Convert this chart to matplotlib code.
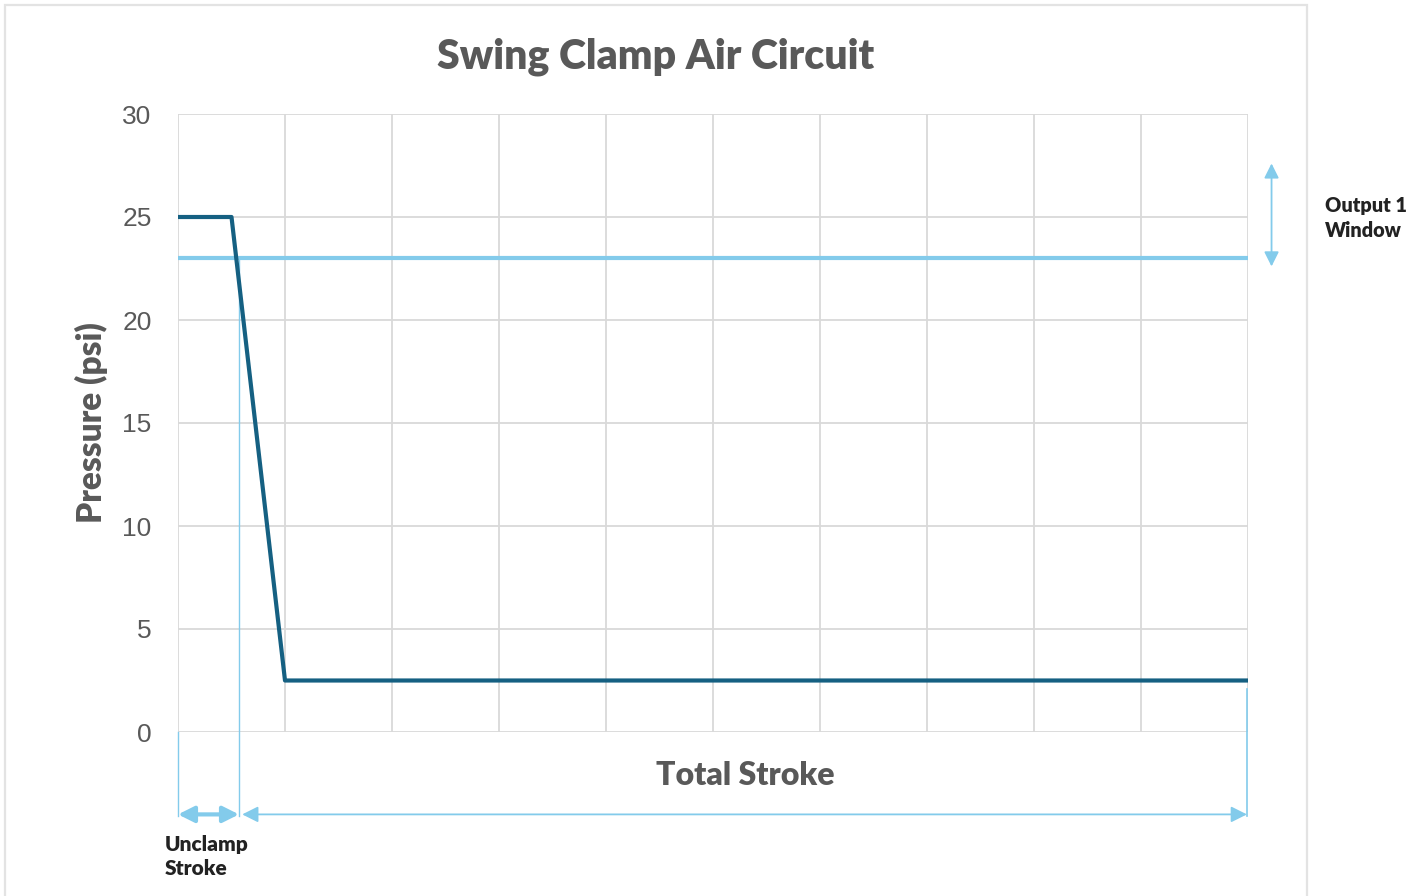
import matplotlib.pyplot as plt
import matplotlib.patches as mpatches

# data
stroke = [0, 0.5, 1, 10]
pressure = [25, 25, 2.5, 2.5]
threshold = 23
unclamp_end = 0.57
total_end = 10
y_ticks = [0, 5, 10, 15, 20, 25, 30]
x_grid = list(range(0, 11))

DARK = "#156082"
LIGHT = "#83CBEB"
GRAY = "#595959"
GRID = "#D9D9D9"

plt.rcParams["font.family"] = ["Lato", "DejaVu Sans"]

fig = plt.figure(figsize=(14.19, 8.96), dpi=100)
ax = fig.add_axes([178 / 1419, 1 - 732 / 896, (1248 - 178) / 1419, (732 - 114) / 896])

# outer chart border
fig.patches.append(mpatches.Rectangle((5 / 1419, -0.05), (1307 - 5) / 1419, 1.05 - 5 / 896,
                                      transform=fig.transFigure, fill=False,
                                      edgecolor="#E3E3E3", lw=1.6))

ax.set_xlim(0, 10)
ax.set_ylim(0, 30)
ax.set_yticks(y_ticks)
ax.set_xticks(x_grid)
ax.set_xticklabels([])
ax.tick_params(axis="both", length=0, labelsize=19, colors=GRAY, pad=19)
for lab in ax.get_yticklabels():
    lab.set_family(["Liberation Sans", "DejaVu Sans"])
ax.grid(True, color=GRID, lw=1.3)
for s in ax.spines.values():
    s.set_visible(False)

ax.plot([0, 10], [threshold, threshold], color=LIGHT, lw=3, solid_capstyle="butt", zorder=3)
ax.plot(stroke, pressure, color=DARK, lw=3, solid_capstyle="butt", zorder=4)

# dimension lines
ax.plot([0, 0], [0, -4.1], color=LIGHT, lw=1, clip_on=False)
ax.plot([unclamp_end, unclamp_end], [threshold, -4.1], color=LIGHT, lw=1, clip_on=False, zorder=2)
ax.plot([total_end - 0.01, total_end - 0.01], [2.1, -4.1], color=LIGHT, lw=1.2, clip_on=False)

ax.annotate("", xy=(0, -4.0), xytext=(unclamp_end, -4.0), annotation_clip=False,
            arrowprops=dict(arrowstyle="<|-|>", color=LIGHT, lw=3, mutation_scale=24,
                            shrinkA=0, shrinkB=0))
ax.annotate("", xy=(unclamp_end + 0.03, -4.0), xytext=(total_end - 0.01, -4.0),
            annotation_clip=False,
            arrowprops=dict(arrowstyle="<|-|>", color=LIGHT, lw=1.3, mutation_scale=24,
                            shrinkA=0, shrinkB=0))
ax.annotate("", xy=(10.22, 27.6), xytext=(10.22, 22.6), annotation_clip=False,
            arrowprops=dict(arrowstyle="<|-|>", color=LIGHT, lw=1.3, mutation_scale=22,
                            shrinkA=0, shrinkB=0))

ax.text(5.3, -2.1, "Total Stroke", ha="center", va="center", fontsize=23,
        fontweight="heavy", color=GRAY)
ax.text(-0.12, -6.05, "Unclamp\nStroke", ha="left", va="center", fontsize=15,
        fontweight="heavy", color="#222222", linespacing=1.3)
ax.text(10.72, 24.95, "Output 1\nWindow", ha="left", va="center", fontsize=14.3,
        fontweight="heavy", color="#222222", linespacing=1.35)

ax.set_ylabel("Pressure (psi)", fontsize=24, fontweight="heavy", color=GRAY, labelpad=10)
fig.text(656 / 1419, 1 - 57 / 896, "Swing Clamp Air Circuit", ha="center", va="center",
         fontsize=29.5, fontweight="heavy", color=GRAY)

fig.savefig("out.png", dpi=100)
plt.close()
